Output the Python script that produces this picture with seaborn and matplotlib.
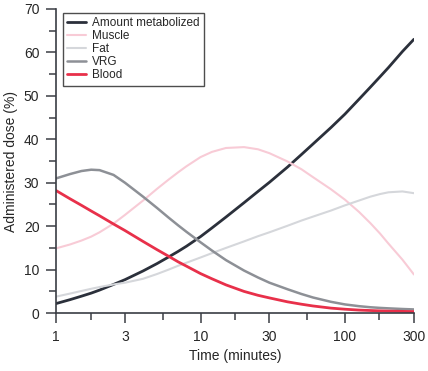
import numpy as np
import pandas as pd
import matplotlib
matplotlib.use("Agg")
import matplotlib.pyplot as plt
import seaborn as sns

# time points (minutes), log scale
time_min = [1, 1.25, 1.5, 1.75, 2, 2.5, 3, 4, 5, 6, 7, 8, 10, 12, 15, 20, 25, 30,
            40, 50, 60, 80, 100, 125, 150, 175, 200, 250, 300]

# % of administered dose in each compartment
metabolized = [2.2, 3.1, 3.9, 4.6, 5.3, 6.6, 7.7, 9.7, 11.4, 12.9, 14.2, 15.4, 17.6, 19.6, 22.1, 25.4,
               28.0, 30.1, 33.6, 36.5, 38.9, 42.7, 45.8, 49.2, 52.0, 54.4, 56.5, 60.2, 63.0]
muscle = [14.9, 15.8, 16.7, 17.6, 18.6, 20.6, 22.6, 25.9, 28.6, 30.7, 32.4, 33.8, 35.9, 37.1, 38.0, 38.2,
          37.7, 36.8, 34.9, 33.1, 31.3, 28.5, 26.1, 23.3, 20.7, 18.3, 16.0, 12.3, 8.9]
fat = [3.8, 4.5, 5.1, 5.6, 6.0, 6.6, 7.0, 7.9, 9.0, 10.0, 10.9, 11.6, 12.8, 13.8, 15.0, 16.5,
       17.7, 18.6, 20.1, 21.3, 22.2, 23.6, 24.8, 25.9, 26.8, 27.4, 27.8, 28.0, 27.6]
vrg = [31.0, 32.0, 32.7, 33.0, 32.9, 31.8, 30.0, 26.8, 24.2, 22.0, 20.2, 18.7, 16.3, 14.4, 12.2, 9.8,
       8.2, 7.0, 5.5, 4.4, 3.6, 2.6, 2.0, 1.6, 1.35, 1.2, 1.1, 0.95, 0.85]
blood = [28.2, 26.3, 24.8, 23.5, 22.4, 20.5, 19.0, 16.5, 14.6, 13.1, 11.8, 10.8, 9.1, 7.9, 6.5, 5.0,
         4.1, 3.5, 2.6, 2.05, 1.65, 1.15, 0.9, 0.7, 0.6, 0.52, 0.47, 0.4, 0.35]

series_names = ["Amount metabolized", "Muscle", "Fat", "VRG", "Blood"]
colors = ["#2b303b", "#f8cbd6", "#d5d7db", "#8d9096", "#e8304a"]
widths = [2.0, 1.5, 1.5, 1.8, 2.0]

frames = []
for name, vals in zip(series_names, [metabolized, muscle, fat, vrg, blood]):
    frames.append(pd.DataFrame({"time": time_min, "dose": vals, "tissue": name}))
df = pd.concat(frames)

sns.set_theme(style="ticks")
plt.rcParams["font.family"] = ["Liberation Sans", "DejaVu Sans"]

fig = plt.figure(figsize=(4.28, 3.71), dpi=100)
ax = fig.add_axes([0.131, 0.156, 0.836, 0.82])

sns.lineplot(data=df, x="time", y="dose", hue="tissue", hue_order=series_names,
             palette=dict(zip(series_names, colors)), ax=ax, legend=False)
for line, lw in zip(ax.get_lines(), widths):
    line.set_linewidth(lw)
    line.set_solid_joinstyle("round")

ax.set_xscale("log")
ax.set_xlim(1, 300)
ax.set_ylim(0, 70)
ax.set_xticks([1, 3, 10, 30, 100, 300])
ax.set_xticklabels(["1", "3", "10", "30", "100", "300"])
ax.set_xticks([1.732, 5.477, 17.32, 54.77, 173.2], minor=True)
ax.set_xticklabels([], minor=True)
ax.set_yticks(range(0, 71, 10))
ax.set_yticks(range(5, 70, 10), minor=True)

for s in ["top", "right"]:
    ax.spines[s].set_visible(False)
for s in ["left", "bottom"]:
    ax.spines[s].set_color("#3a3d44")
    ax.spines[s].set_linewidth(1.2)
ax.tick_params(which="major", length=7, width=1.1, color="#3a3d44", labelsize=10, pad=5)
ax.tick_params(which="minor", length=5, width=1.1, color="#3a3d44")

ax.set_xlabel("Time (minutes)", fontsize=10, labelpad=4)
ax.set_ylabel("Administered dose (%)", fontsize=10, labelpad=4)

handles = [plt.Line2D([], [], color=c, lw=w) for c, w in zip(colors, widths)]
leg = ax.legend(handles, series_names, loc="upper left", bbox_to_anchor=(0.02, 0.988),
                borderaxespad=0, frameon=True, fancybox=False, edgecolor="#222222",
                fontsize=8.5, handlelength=1.6, borderpad=0.35, labelspacing=0.1,
                handletextpad=0.5)
leg.get_frame().set_linewidth(1.0)

fig.savefig("out.png", dpi=100)
